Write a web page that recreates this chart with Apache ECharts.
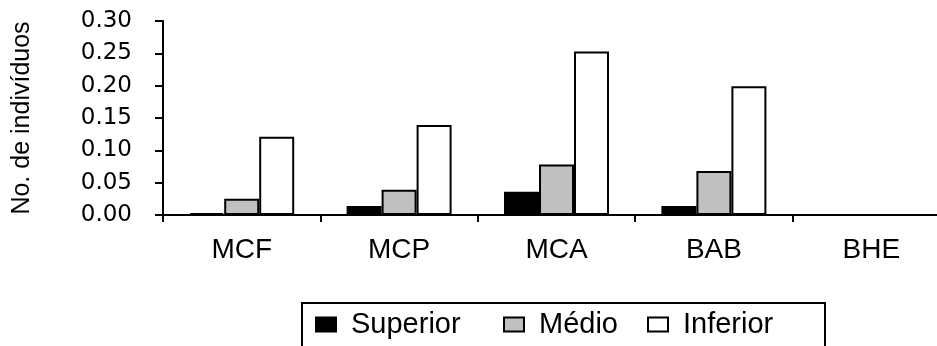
<!DOCTYPE html>
<html>
<head>
<meta charset="utf-8">
<script src="https://cdn.jsdelivr.net/npm/echarts@6/dist/echarts.min.js"></script>
<style>
html,body{margin:0;padding:0;background:#fff;}
#chart{width:937px;height:346px;}
</style>
</head>
<body>
<div id="chart"></div>
<script>
const categories = ['MCF', 'MCP', 'MCA', 'BAB', 'BHE'];
const superior = [0.003, 0.014, 0.036, 0.014, 0];
const medio = [0.025, 0.039, 0.078, 0.068, 0];
const inferior = [0.121, 0.139, 0.253, 0.199, 0];
const seriesNames = ['Superior', 'Médio', 'Inferior'];
const yTicks = { min: 0, max: 0.30, interval: 0.05 };
const yTitle = 'No. de indivíduos';

const chart = echarts.init(document.getElementById('chart'), null, { renderer: 'canvas' });
const border = { borderColor: '#000', borderWidth: 2 };
const mkSeries = (name, data, color) => ({
  name, type: 'bar', data,
  barWidth: 35, barGap: '0%',
  itemStyle: Object.assign({ color }, border),
  emphasis: { disabled: true }
});
chart.setOption({
  animation: false,
  backgroundColor: '#fff',
  grid: { left: 163, right: -13, top: 21, bottom: 131, containLabel: false, outerBoundsMode: 'none' },
  legend: {
    data: [
      { name: seriesNames[0], textStyle: { width: 130 } },
      { name: seriesNames[1], textStyle: { width: 86 } },
      { name: seriesNames[2], textStyle: { width: 122 } }
    ],
    left: 302, top: 303,
    orient: 'horizontal',
    icon: 'rect', itemWidth: 20, itemHeight: 14, itemGap: 22,
    padding: [7, 20, 40, 13],
    borderColor: '#000', borderWidth: 2, borderRadius: 0,
    selectedMode: false,
    textStyle: { fontFamily: 'Liberation Sans, Arial', fontSize: 29, color: '#000', lineHeight: 28, padding: [0, 0, 0, 10] }
  },
  xAxis: {
    type: 'category', data: categories,
    axisLine: { lineStyle: { color: '#000', width: 2 } },
    axisTick: { show: true, length: 7, lineStyle: { color: '#000', width: 2 } },
    axisLabel: { fontFamily: 'Liberation Sans, Arial', fontSize: 28, color: '#000', margin: 21 },
    splitLine: { show: false }
  },
  yAxis: {
    type: 'value', min: yTicks.min, max: yTicks.max, interval: yTicks.interval,
    name: yTitle, nameLocation: 'middle', nameRotate: 90, nameGap: 128,
    nameTextStyle: { fontFamily: 'Liberation Sans, Arial', fontSize: 25, color: '#000' },
    axisLine: { show: true, lineStyle: { color: '#000', width: 2 } },
    axisTick: { show: true, length: 8, lineStyle: { color: '#000', width: 2 } },
    axisLabel: { fontFamily: 'DejaVu Sans', fontSize: 23, color: '#000', margin: 31, formatter: v => v.toFixed(2) },
    splitLine: { show: false }
  },
  series: [
    mkSeries(seriesNames[0], superior, '#000000'),
    mkSeries(seriesNames[1], medio, '#c0c0c0'),
    mkSeries(seriesNames[2], inferior, '#ffffff')
  ]
});
</script>
</body>
</html>
